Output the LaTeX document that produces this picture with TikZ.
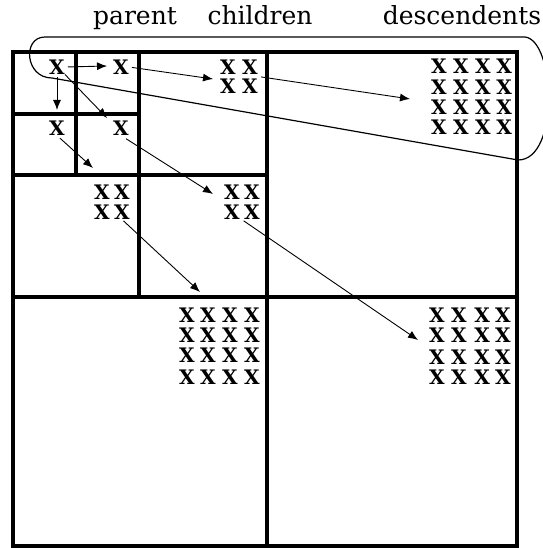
\documentclass[tikz,border=0pt]{standalone}
\usepackage{fontspec}
\setmainfont{DejaVu Serif}
\usetikzlibrary{arrows.meta,fit}
\begin{document}
\begin{tikzpicture}[x=1pt,y=-1pt,
  grid/.style={line width=3.7pt},
  xm/.style={font=\fontsize{20}{20}\selectfont\bfseries, inner sep=0pt, text height=14.6pt, text depth=0pt},
  lbl/.style={font=\fontsize{25}{25}\selectfont, anchor=base, inner sep=0pt},
  arr/.style={line width=0.9pt, -{Latex[length=10pt,width=8pt]}},
  loopline/.style={line width=1.2pt},
  blk/.style={inner sep=0pt}]
\useasboundingbox (0,0) rectangle (542,548);

% grid
\draw[grid] (13,52) rectangle (517,546);
\draw[grid] (76,52) -- (76,175);
\draw[grid] (13,114) -- (139,114);
\draw[grid] (139,52) -- (139,297);
\draw[grid] (13,175) -- (267,175);
\draw[grid] (267,52) -- (267,546);
\draw[grid] (13,297) -- (517,297);

% labels
\node[lbl] (lp) at (135,25) {parent};
\node[lbl] (lc) at (260,25) {children};
\node[lbl] (ld) at (462,25) {descendents};

% single X
\node[xm] (a1) at (57,67) {X};
\node[xm] (a2) at (121,67) {X};
\node[xm] (a3) at (57,128) {X};
\node[xm] (a4) at (121,128) {X};

% 2x2 blocks
\foreach \i/\x in {1/228,2/250} \foreach \j/\y in {1/67,2/86}
  \node[xm] (b1-\j\i) at (\x,\y) {X};
\foreach \i/\x in {1/102,2/122} \foreach \j/\y in {1/192,2/212}
  \node[xm] (b2-\j\i) at (\x,\y) {X};
\foreach \i/\x in {1/232,2/252} \foreach \j/\y in {1/192,2/212}
  \node[xm] (b3-\j\i) at (\x,\y) {X};
\node[blk, fit=(b1-11)(b1-22)] (b1) {};
\node[blk, fit=(b2-11)(b2-22)] (b2) {};
\node[blk, fit=(b3-11)(b3-22)] (b3) {};

% 4x4 blocks
\foreach \i/\x in {1/439,2/461,3/483,4/504} \foreach \j/\y in {1/66,2/87,3/107,4/127}
  \node[xm] (c1-\j\i) at (\x,\y) {X};
\foreach \i/\x in {1/187,2/208,3/230,4/252} \foreach \j/\y in {1/315,2/335,3/355,4/377}
  \node[xm] (c2-\j\i) at (\x,\y) {X};
\foreach \i/\x in {1/437,2/459,3/482,4/503} \foreach \j/\y in {1/315,2/335,3/357,4/377}
  \node[xm] (c3-\j\i) at (\x,\y) {X};

% loop around parent, children, descendents
\coordinate (L0) at (52,78);
\coordinate (L1) at (45,37);
\coordinate (L2) at (525,37);
\coordinate (L3) at (518,160);
\draw[loopline] (L0) .. controls (25,78) and (22,37) .. (L1) -- (L2)
  .. controls (555,40) and (560,160) .. (L3) -- cycle;

% arrow tips
\coordinate (t1) at (107,66);
\coordinate (t2) at (57,110);
\coordinate (t3) at (107,118);
\coordinate (t4) at (213,79);
\coordinate (t5) at (410,99);
\coordinate (t6) at (93,168);
\coordinate (t7) at (213,194);
\coordinate (t8) at (200,292);
\coordinate (t9) at (418,340);

\draw[arr, shorten <=3pt] (a1.east) -- (t1);
\draw[arr, shorten <=3pt] (a1.south) -- (t2);
\draw[arr] (a1.south east) -- (t3);
\draw[arr, shorten <=3pt] (a2.east) -- (t4);
\draw[arr, shorten <=3pt] (b1.east) -- (t5);
\draw[arr, shorten <=4pt] (a3.south) -- (t6);
\draw[arr, shorten <=6pt] (a4.south) -- (t7);
\draw[arr, shorten <=2pt] (b2-22.south) -- (t8);
\draw[arr, shorten <=2pt] (b3.south) -- (t9);
\end{tikzpicture}
\end{document}
